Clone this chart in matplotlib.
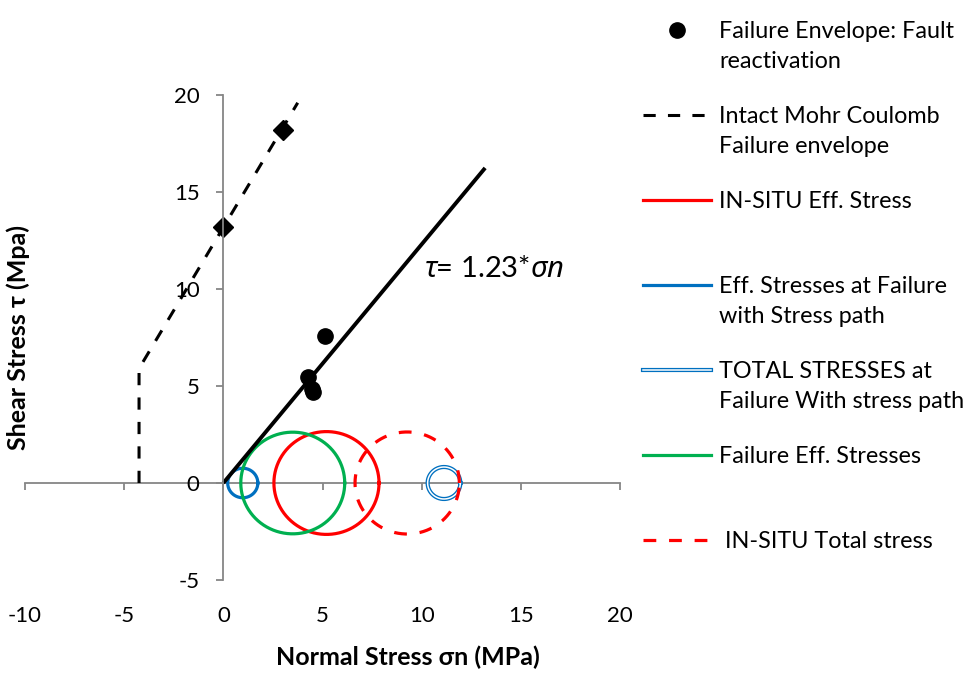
import numpy as np
import matplotlib
matplotlib.use("Agg")
import matplotlib.pyplot as plt

plt.rcParams['font.family'] = ['Lato', 'Noto Sans', 'DejaVu Sans']
plt.rcParams['mathtext.fontset'] = 'custom'
plt.rcParams['mathtext.rm'] = 'Lato'
plt.rcParams['mathtext.it'] = 'Noto Sans:italic'
plt.rcParams['axes.unicode_minus'] = False

# fault reactivation test points
fault_sn = [4.25, 4.45, 4.5, 5.15]
fault_tau = [5.45, 4.85, 4.7, 7.6]

# fitted envelope tau = 1.23 * sn
env_sn = [0, 13.2]
env_tau = [0, 16.24]

# intact Mohr-Coulomb envelope (tension cut-off + linear part)
intact_sn = [-4.25, -4.25, 3.75]
intact_tau = [0, 5.9, 19.6]
intact_pts_sn = [0, 3.0]
intact_pts_tau = [13.2, 18.2]

# Mohr circles: (sigma3, sigma1)
insitu_eff = (2.55, 7.85)
fail_path_eff = (0.22, 1.74)
total_fail = (10.3, 11.95)
fail_eff = (0.88, 6.12)
insitu_total = (6.64, 11.9)

RED = '#FF0000'
BLUE = '#0070C0'
GREEN = '#00B050'
GRAY = '#868686'


def mohr(s3, s1):
    c = (s1 + s3) / 2.0
    r = (s1 - s3) / 2.0
    t = np.linspace(0, 2 * np.pi, 361)
    return c + r * np.cos(t), r * np.sin(t)


fig = plt.figure(figsize=(9.8, 6.77), dpi=100)
ax = fig.add_axes([25 / 980, 97 / 677, 595 / 980, 485 / 677])
ax.set_xlim(-10, 20)
ax.set_ylim(-5, 20)

# circles
x, y = mohr(*insitu_eff)
ax.plot(x, y, color=RED, lw=2.3)
x, y = mohr(*fail_path_eff)
ax.plot(x, y, color=BLUE, lw=2.3)
x, y = mohr(*total_fail)
ax.plot(x, y, color=BLUE, lw=3.0)
ax.plot(x, y, color='white', lw=1.1)
x, y = mohr(*fail_eff)
ax.plot(x, y, color=GREEN, lw=2.3)
x, y = mohr(*insitu_total)
ax.plot(x, y, color=RED, lw=2.3, linestyle=(0, (4, 4)))

# envelopes
ax.plot(intact_sn, intact_tau, color='black', lw=2.2, linestyle=(0, (4, 4)))
ax.plot(intact_pts_sn, intact_pts_tau, 'D', color='black', ms=10, ls='none')
ax.plot(env_sn, env_tau, color='black', lw=2.8, solid_capstyle='butt')
ax.plot(fault_sn, fault_tau, 'o', color='black', ms=11, ls='none')

ax.text(10.1, 10.6, r'$\mathit{\tau}$= 1.23*$\mathit{\sigma n}$', fontsize=21)

# axes through origin
for s in ['top', 'right', 'bottom']:
    ax.spines[s].set_visible(False)
ax.spines['left'].set_position(('data', 0))
ax.spines['left'].set_color(GRAY)
ax.spines['left'].set_linewidth(1.3)
ax.set_yticks(range(-5, 21, 5))
ax.tick_params(axis='y', direction='out', length=5, width=1.3, color=GRAY,
               labelsize=16, pad=12)
ax.set_xticks(range(-10, 21, 5))
ax.tick_params(axis='x', length=0, labelsize=16, pad=19)

sec = ax.secondary_xaxis(0.2)
sec.set_xticks(range(-10, 21, 5))
sec.tick_params(axis='x', direction='out', length=5, width=1.3, color=GRAY,
                labelbottom=False)
sec.spines['bottom'].set_color(GRAY)
sec.spines['bottom'].set_linewidth(1.3)

ax.set_xlabel('Normal Stress σn (MPa)', fontsize=18, fontweight='bold')
ax.xaxis.set_label_coords(0.644, -0.135)
ax.set_ylabel('Shear Stress τ (Mpa)', fontsize=18, fontweight='bold')
ax.yaxis.set_label_coords((30 - 25) / 595, 0.5)

# legend drawn in pixel space
lax = fig.add_axes([0, 0, 1, 1])
lax.set_xlim(0, 980)
lax.set_ylim(677, 0)
lax.axis('off')
lax.patch.set_visible(False)

entries = [
    ('Failure Envelope: Fault\nreactivation', dict(marker='o', color='black', ms=11, ls='none')),
    ('Intact Mohr Coulomb\nFailure envelope', dict(color='black', lw=2.2, ls=(0, (4, 4)))),
    ('IN-SITU Eff. Stress', dict(color=RED, lw=2.3)),
    ('Eff. Stresses at Failure\nwith Stress path', dict(color=BLUE, lw=2.3)),
    ('TOTAL STRESSES at\nFailure With stress path', 'double'),
    ('Failure Eff. Stresses', dict(color=GREEN, lw=2.3)),
    (' IN-SITU Total stress', dict(color=RED, lw=2.3, ls=(0, (4, 4)))),
]
for i, (label, style) in enumerate(entries):
    yy = 30 + i * 85
    if style == 'double':
        lax.plot([643, 711], [yy, yy], color=BLUE, lw=3.0)
        lax.plot([643, 711], [yy, yy], color='white', lw=1.1)
    elif style.get('marker'):
        lax.plot([677], [yy], **style)
    else:
        lax.plot([643, 711], [yy, yy], **style)
    lax.text(719, yy - 9, label, fontsize=16.8, va='top', linespacing=1.55)

fig.savefig('out.png', dpi=100)
